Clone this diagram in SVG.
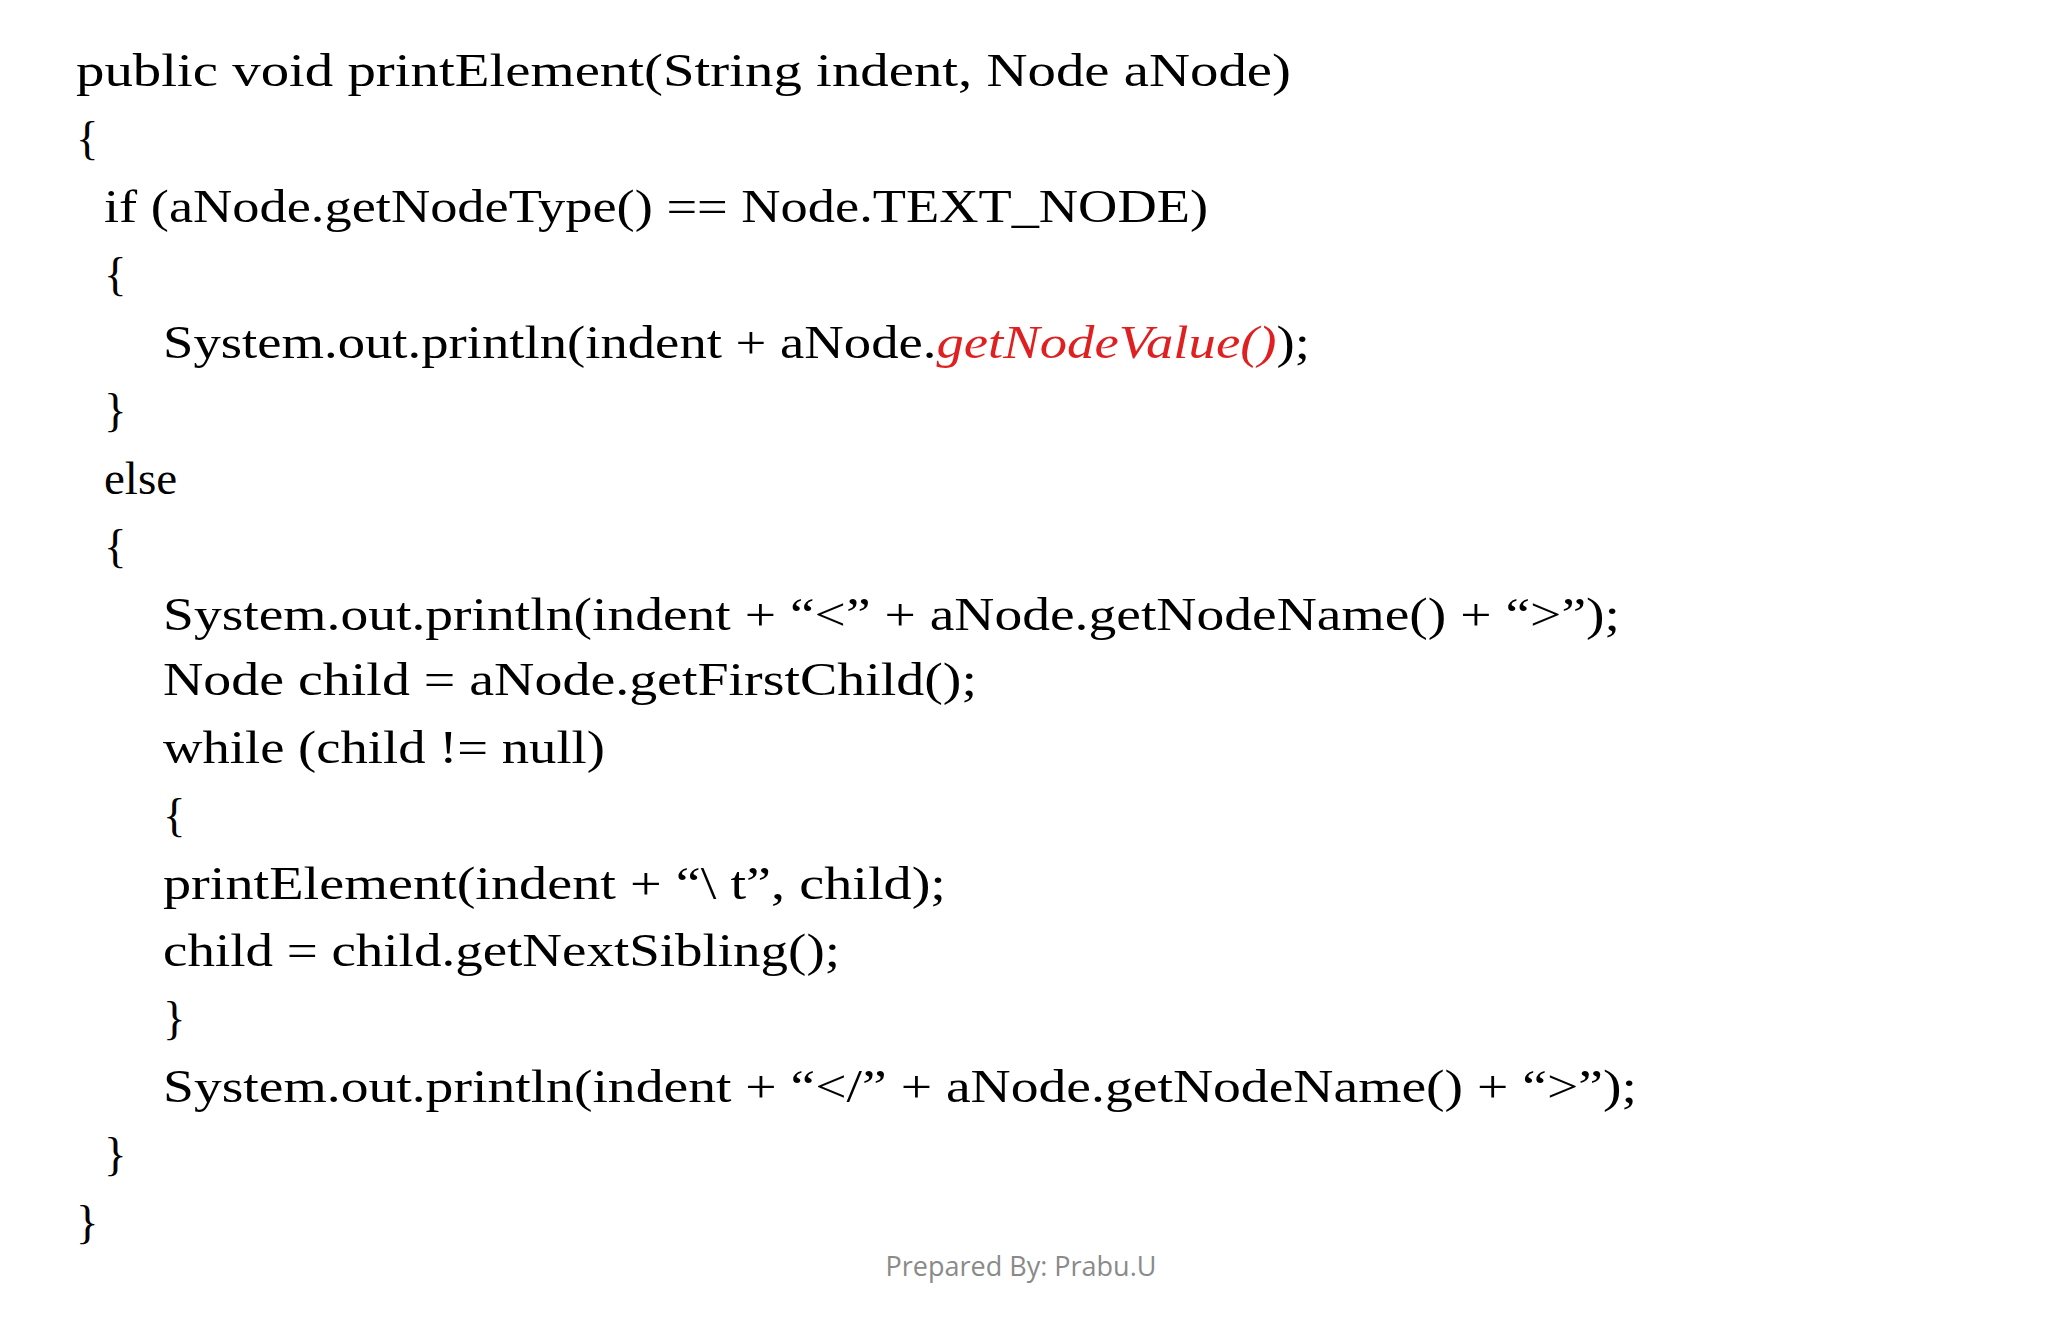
<svg xmlns="http://www.w3.org/2000/svg" width="2048" height="1331" viewBox="0 0 2048 1331">
<style>
.c{font-family:"Liberation Serif",serif;font-size:47px;fill:#000}
.r{fill:#e02020;font-style:italic}
.f{font-family:"Open Sans","Liberation Sans",sans-serif;font-size:27px;fill:#8a8a8a}
</style>
<rect width="2048" height="1331" fill="#fff"/>
<g id="code">
<text class="c" x="76" y="86" textLength="1215" lengthAdjust="spacingAndGlyphs">public void printElement(String indent, Node aNode)</text>
<text class="c" x="76" y="154">{</text>
<text class="c" x="104" y="222" textLength="1104" lengthAdjust="spacingAndGlyphs">if (aNode.getNodeType() == Node.TEXT_NODE)</text>
<text class="c" x="104" y="290">{</text>
<text class="c" x="163" y="358" textLength="1147" lengthAdjust="spacingAndGlyphs">System.out.println(indent + aNode.<tspan class="r">getNodeValue()</tspan>);</text>
<text class="c" x="104" y="426">}</text>
<text class="c" x="104" y="494">else</text>
<text class="c" x="104" y="562">{</text>
<text class="c" x="163" y="630" textLength="1457" lengthAdjust="spacingAndGlyphs">System.out.println(indent + “&lt;” + aNode.getNodeName() + “&gt;”);</text>
<text class="c" x="163" y="695" textLength="814" lengthAdjust="spacingAndGlyphs">Node child = aNode.getFirstChild();</text>
<text class="c" x="163" y="763" textLength="442" lengthAdjust="spacingAndGlyphs">while (child != null)</text>
<text class="c" x="163" y="831">{</text>
<text class="c" x="163" y="899" textLength="783" lengthAdjust="spacingAndGlyphs">printElement(indent + “\ t”, child);</text>
<text class="c" x="163" y="966" textLength="677" lengthAdjust="spacingAndGlyphs">child = child.getNextSibling();</text>
<text class="c" x="163" y="1034">}</text>
<text class="c" x="163" y="1102" textLength="1474" lengthAdjust="spacingAndGlyphs">System.out.println(indent + “&lt;/” + aNode.getNodeName() + “&gt;”);</text>
<text class="c" x="104" y="1170">}</text>
<text class="c" x="76" y="1238">}</text>
</g>
<text class="f" x="1021" y="1276" text-anchor="middle">Prepared By: Prabu.U</text>
</svg>
